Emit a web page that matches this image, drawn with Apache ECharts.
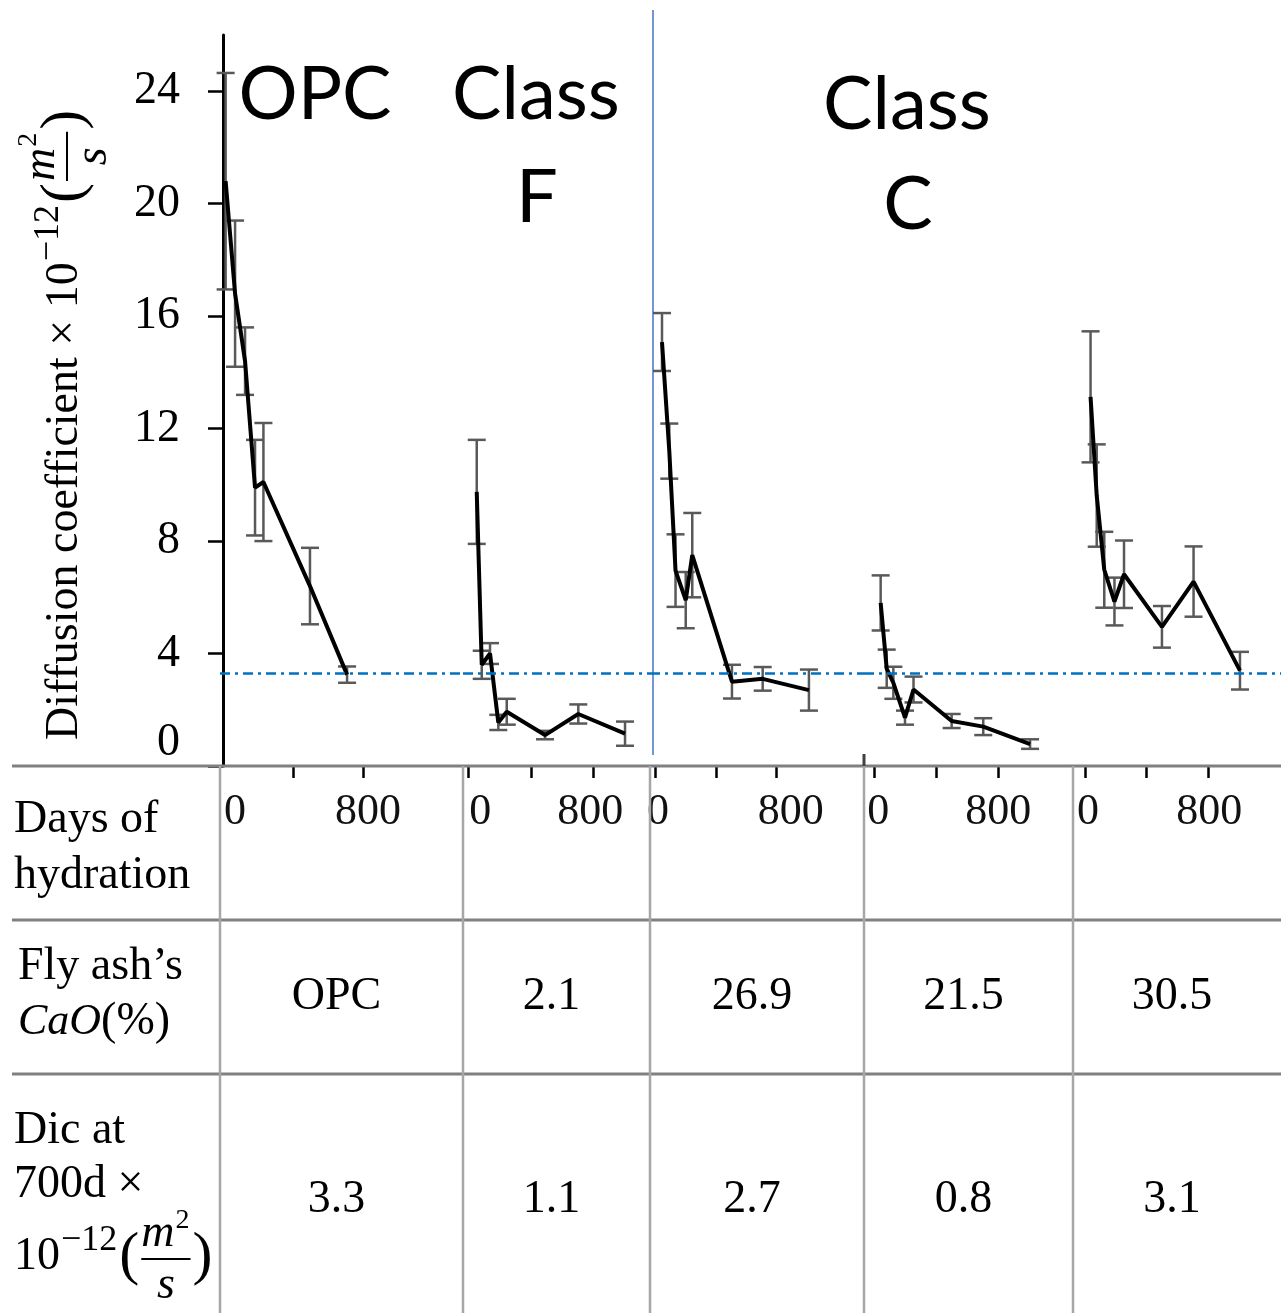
<!DOCTYPE html>
<html>
<head>
<meta charset="utf-8">
<title>Diffusion coefficient vs days of hydration</title>
<script src="https://cdn.jsdelivr.net/npm/echarts@6/dist/echarts.min.js"></script>
<style>
    html, body { margin: 0; padding: 0; background: #fff; }
    #chart_box { width: 1281px; height: 1313px; }
</style>
</head>
<body>
<div id="chart_box"></div>
<script>
//数据：扩散系数（×10^-12 m²/s）与误差
var opcDays = [15, 69, 126, 183, 231, 497, 709];
var opcDic = [20.8, 16.8, 14.4, 9.9, 10.1, 6.4, 3.25];
var opcErr = [3.85, 2.6, 1.2, 1.7, 2.1, 1.36, 0.29];

var classFDays = [54, 86, 139, 192, 246, 491, 704, 1003];
var classFDic = [9.75, 3.6, 4.0, 1.55, 1.93, 1.1, 1.85, 1.15];
var classFErr = [1.85, 0.5, 0.37, 0.27, 0.46, 0.15, 0.34, 0.43];

var classC269Days = [46, 94, 135, 202, 245, 506, 708, 1012];
var classC269Dic = [15.08, 11.2, 6.95, 5.9, 7.5, 3.0, 3.1, 2.7];
var classC269Err = [1.03, 0.98, 1.29, 1.0, 1.5, 0.6, 0.42, 0.73];

var classC215Days = [41, 80, 123, 198, 253, 499, 703, 1005];
var classC215Dic = [5.8, 3.46, 2.96, 1.72, 2.72, 1.6, 1.4, 0.78];
var classC215Err = [0.98, 0.68, 0.57, 0.25, 0.46, 0.25, 0.3, 0.17];

var classC305Days = [36, 76, 125, 191, 253, 499, 704, 1005];
var classC305Dic = [13.13, 9.62, 6.98, 5.85, 6.82, 4.95, 6.56, 3.39];
var classC305Err = [2.33, 1.82, 1.35, 0.85, 1.2, 0.74, 1.25, 0.67];

var yTicks = [0, 4, 8, 12, 16, 20, 24];
var xTicks = [0, 400, 800];
var xLabels = [0, 800];
var refLevel = 3.3;

var panelTitles = [["OPC"], ["Class", "F"], ["Class", "C"]];
var rowLabels = [["Days of", "hydration"], ["Fly ash\u2019s", "CaO(%)"], ["Dic at", "700d \u00d7"]];
var caoValues = ["OPC", "2.1", "26.9", "21.5", "30.5"];
var dicAt700 = ["3.3", "1.1", "2.7", "0.8", "3.1"];

//版面
var Y_MAX = 26;
var PLOT_TOP = 35;
var AXIS_Y = 766;
var colEdges = [220, 463, 650, 864, 1073, 1281];
var rowEdges = [766, 920, 1074, 1313];
//每个小图的 0 天位置(px) 与 px/天，以及 "0"、"800" 标签的水平偏移
var panelGeo = [
    {x0: 223, pxPerDay: 0.175, shift: [12, 5]},
    {x0: 468.3, pxPerDay: 0.15625, shift: [12, -3]},
    {x0: 655, pxPerDay: 0.1521, shift: [3, 14]},
    {x0: 874.3, pxPerDay: 0.155, shift: [4, 0]},
    {x0: 1085, pxPerDay: 0.1542, shift: [3, 1]}
];
var panelData = [
    [opcDays, opcDic, opcErr],
    [classFDays, classFDic, classFErr],
    [classC269Days, classC269Dic, classC269Err],
    [classC215Days, classC215Dic, classC215Err],
    [classC305Days, classC305Dic, classC305Err]
];
var titlePos = [[[315, 95]], [[536, 95], [537, 198]], [[907, 105], [908, 205]]];

var SERIF = '"Liberation Serif", "Times New Roman", serif';
var SANS = 'Lato, "Noto Sans", sans-serif';

var measureCtx = document.createElement("canvas").getContext("2d");
function measure(str, size, italic) {
    measureCtx.font = (italic ? "italic " : "") + size + 'px "Liberation Serif"';
    return measureCtx.measureText(str).width;
}

function serifText(x, y, str, size, extra) {
    var style = {
        text: str, fontSize: size, fontFamily: SERIF, fill: "#000",
        align: "left", textAlign: "left", verticalAlign: "middle", textVerticalAlign: "middle"
    };
    if (extra) {
        for (var k in extra) { style[k] = extra[k]; }
        if (extra.align) { style.textAlign = extra.align; }
    }
    return {type: "text", x: x, y: y, style: style, z: 10};
}

//10^-12 (m²/s) 单位，分数形式
function unitParts(ox, oy, f) {
    var parts = [];
    var x = ox;
    parts.push(serifText(x, oy, "10", f));
    x += measure("10", f);
    var sup = Math.round(f * 0.78);
    parts.push(serifText(x + 1, oy - f * 0.36, "\u221212", sup));
    x += measure("\u221212", sup) + 3;
    var pf = Math.round(f * 1.3);
    parts.push(serifText(x, oy, "(", pf));
    x += measure("(", pf) + 2;
    var mW = measure("m", f, true);
    var twoF = Math.round(f * 0.6);
    var numW = mW + measure("2", twoF) + 2;
    parts.push(serifText(x, oy - f * 0.5, "m", f, {fontStyle: "italic"}));
    parts.push(serifText(x + mW + 1, oy - f * 0.8, "2", twoF));
    parts.push({type: "line", z: 10, shape: {x1: x, y1: oy + 2, x2: x + numW, y2: oy + 2},
        style: {stroke: "#000", lineWidth: 2}});
    parts.push(serifText(x + numW / 2, oy + f * 0.62, "s", f, {fontStyle: "italic", align: "center"}));
    x += numW + 2;
    parts.push(serifText(x, oy, ")", pf));
    return parts;
}

function renderErrorBar(params, api) {
    var x = api.value(0);
    var low = api.coord([x, api.value(1)]);
    var high = api.coord([x, api.value(2)]);
    var half = 9;
    function seg(x1, y1, x2, y2) {
        return {type: "line", shape: {x1: x1, y1: y1, x2: x2, y2: y2},
            style: {stroke: "#595959", lineWidth: 2.5}};
    }
    return {type: "group", children: [
        seg(high[0], high[1], low[0], low[1]),
        seg(high[0] - half, high[1], high[0] + half, high[1]),
        seg(low[0] - half, low[1], low[0] + half, low[1])
    ]};
}

function initChart() {
    var myChart = echarts.init(document.getElementById("chart_box"));
    var grids = [], xAxes = [], yAxes = [], seriesList = [];

    for (var i = 0; i < panelData.length; i++) {
        var left = colEdges[i], right = colEdges[i + 1];
        var geo = panelGeo[i];
        grids.push({left: left, top: PLOT_TOP, width: right - left, height: AXIS_Y - PLOT_TOP});

        var rich = {
            a: {fontFamily: SERIF, fontSize: 44, color: "#111", padding: geo.shift[0] >= 0 ? [0, 0, 0, 2 * geo.shift[0]] : [0, -2 * geo.shift[0], 0, 0]},
            b: {fontFamily: SERIF, fontSize: 44, color: "#111", padding: geo.shift[1] >= 0 ? [0, 0, 0, 2 * geo.shift[1]] : [0, -2 * geo.shift[1], 0, 0]}
        };
        xAxes.push({
            gridIndex: i, type: "value",
            min: (left - geo.x0) / geo.pxPerDay,
            max: (right - geo.x0) / geo.pxPerDay,
            splitLine: {show: false},
            axisLine: {show: false},
            axisTick: {
                show: true, inside: false, length: 12,
                customValues: i === 0 ? xTicks.slice(1) : xTicks,
                lineStyle: {color: "#000", width: 2.5}
            },
            axisLabel: {
                customValues: xLabels, margin: 24,
                formatter: function (v) { return v === 0 ? "{a|0}" : "{b|" + v + "}"; },
                rich: rich
            }
        });

        yAxes.push({
            gridIndex: i, type: "value", min: 0, max: Y_MAX,
            show: i === 0,
            splitLine: {show: false},
            axisLine: {show: true, lineStyle: {color: "#000", width: 3}},
            axisTick: {show: true, inside: false, length: 15, customValues: yTicks, lineStyle: {color: "#000", width: 2.5}},
            axisLabel: {
                customValues: yTicks, margin: 40,
                fontFamily: SERIF, fontSize: 46, color: "#000",
                formatter: function (v) { return v === 0 ? "{z|0}" : String(v); },
                rich: {z: {fontFamily: SERIF, fontSize: 46, color: "#000", padding: [0, 0, 46, 0]}}
            }
        });

        var days = panelData[i][0], vals = panelData[i][1], errs = panelData[i][2];
        var lineData = [], errData = [];
        for (var j = 0, lens = days.length; j < lens; j++) {
            lineData.push([days[j], vals[j]]);
            errData.push([days[j], vals[j] - errs[j], vals[j] + errs[j]]);
        }
        seriesList.push({
            type: "custom", xAxisIndex: i, yAxisIndex: i, z: 2,
            renderItem: renderErrorBar,
            encode: {x: 0, y: [1, 2]},
            data: errData
        });
        seriesList.push({
            type: "line", xAxisIndex: i, yAxisIndex: i, z: 3,
            data: lineData, showSymbol: false, symbol: "none",
            lineStyle: {color: "#000", width: 4},
            markLine: {
                silent: true, symbol: ["none", "none"], label: {show: false},
                lineStyle: {color: "#0070c0", width: 2.5, type: [10, 5, 3, 5]},
                data: [{yAxis: refLevel}]
            }
        });
    }

    var graphics = [];
    //表格线
    for (var r = 0; r < rowEdges.length - 1; r++) {
        graphics.push({type: "line", z: 1, shape: {x1: 12, y1: rowEdges[r], x2: 1281, y2: rowEdges[r]},
            style: {stroke: "#808080", lineWidth: 3}});
    }
    for (var c = 0; c < colEdges.length - 1; c++) {
        graphics.push({type: "line", z: 1, shape: {x1: colEdges[c], y1: AXIS_Y, x2: colEdges[c], y2: 1313},
            style: {stroke: "#a6a6a6", lineWidth: 2.5}});
    }
    graphics.push({type: "line", z: 1, shape: {x1: 864, y1: 754, x2: 864, y2: AXIS_Y},
        style: {stroke: "#404040", lineWidth: 3}});
    //分隔用的蓝色竖线
    graphics.push({type: "line", z: 1, shape: {x1: 653, y1: 10, x2: 653, y2: 755},
        style: {stroke: "#4472c4", lineWidth: 1.5}});

    //小图标题
    for (var t = 0; t < panelTitles.length; t++) {
        for (var l = 0; l < panelTitles[t].length; l++) {
            graphics.push({type: "text", z: 10, x: titlePos[t][l][0], y: titlePos[t][l][1],
                style: {text: panelTitles[t][l], fontFamily: SANS, fontSize: 74, fill: "#000",
                    align: "center", textAlign: "center", verticalAlign: "middle", textVerticalAlign: "middle"}});
        }
    }

    //表格左侧文字
    graphics.push(serifText(14, 820, rowLabels[0][0], 46));
    graphics.push(serifText(14, 876, rowLabels[0][1], 46));
    graphics.push(serifText(18, 967, rowLabels[1][0], 46));
    graphics.push({type: "text", z: 10, x: 18, y: 1022, style: {
        text: "{i|CaO}{n|(%)}", align: "left", textAlign: "left", verticalAlign: "middle", textVerticalAlign: "middle",
        rich: {
            i: {fontFamily: SERIF, fontSize: 44, fontStyle: "italic", fill: "#000"},
            n: {fontFamily: SERIF, fontSize: 46, fill: "#000"}
        }}});
    graphics.push(serifText(14, 1131, rowLabels[2][0], 46));
    graphics.push(serifText(14, 1185, rowLabels[2][1], 46));
    graphics = graphics.concat(unitParts(14, 1257, 46));

    //表格数值
    for (var k = 0; k < caoValues.length; k++) {
        var cx = (colEdges[k] + colEdges[k + 1]) / 2 - 5;
        graphics.push(serifText(cx, 997, caoValues[k], 46, {align: "center"}));
        graphics.push(serifText(cx, 1200, dicAt700[k], 46, {align: "center"}));
    }

    //纵轴标题（旋转）
    var mainTitle = "Diffusion coefficient \u00d7 ";
    var titleChildren = [serifText(0, 0, mainTitle, 46)].concat(unitParts(measure(mainTitle, 46), 0, 46));
    graphics.push({type: "group", x: 65, y: 740, rotation: Math.PI / 2, children: titleChildren});

    var option = {
        backgroundColor: "#fff",
        animation: false,
        grid: grids,
        xAxis: xAxes,
        yAxis: yAxes,
        series: seriesList,
        graphic: graphics
    };
    myChart.setOption(option, true);
}

initChart();
</script>
</body>
</html>
